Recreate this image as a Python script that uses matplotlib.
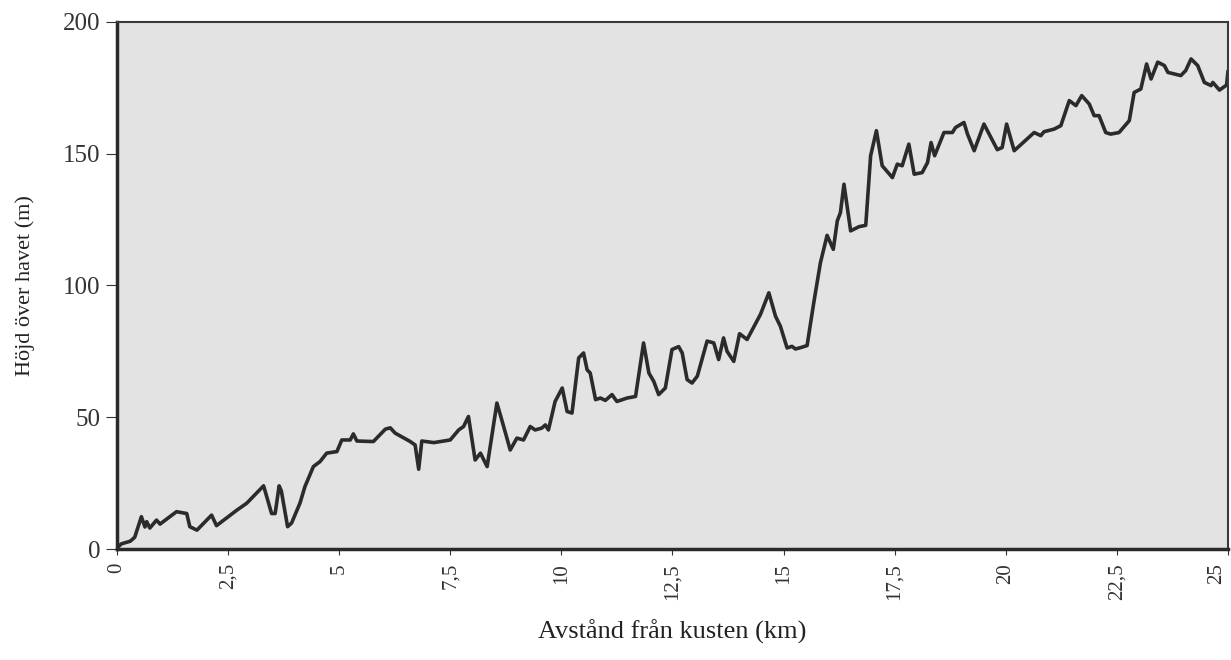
import matplotlib
matplotlib.use('Agg')
import matplotlib.pyplot as plt
from matplotlib.transforms import ScaledTranslation

# Höjdprofil, avläst från originalet (km, m)
dist_km = [0.0, 0.1, 0.3, 0.4, 0.55, 0.63, 0.67, 0.74, 0.89, 0.97, 1.34, 1.57, 1.64, 1.8,
           2.13, 2.24, 2.7, 2.92, 3.3, 3.48, 3.56, 3.65, 3.7, 3.84, 3.93, 4.12, 4.23, 4.42,
           4.57, 4.72, 4.95, 5.06, 5.25, 5.32, 5.4, 5.77, 6.04, 6.15, 6.26, 6.6, 6.71, 6.79,
           6.86, 7.13, 7.5, 7.69, 7.8, 7.91, 8.06, 8.18, 8.33, 8.55, 8.66, 8.85, 9.0, 9.15,
           9.3, 9.41, 9.56, 9.64, 9.71, 9.86, 10.02, 10.13, 10.24, 10.39, 10.5, 10.58, 10.65,
           10.77, 10.88, 10.99, 11.14, 11.25, 11.48, 11.67, 11.85, 11.97, 12.08, 12.19, 12.34,
           12.49, 12.64, 12.72, 12.83, 12.94, 13.06, 13.28, 13.43, 13.54, 13.65, 13.73, 13.88,
           14.01, 14.18, 14.48, 14.67, 14.82, 14.93, 15.08, 15.19, 15.27, 15.4, 15.53, 15.68,
           15.83, 15.98, 16.12, 16.21, 16.28, 16.36, 16.51, 16.7, 16.85, 16.96, 17.09, 17.22,
           17.45, 17.56, 17.67, 17.82, 17.94, 18.12, 18.24, 18.32, 18.4, 18.61, 18.8, 18.87,
           19.06, 19.14, 19.29, 19.51, 19.81, 19.92, 20.02, 20.19, 20.64, 20.79, 20.86, 21.09,
           21.24, 21.43, 21.58, 21.71, 21.88, 21.99, 22.1, 22.25, 22.36, 22.55, 22.78, 22.89,
           23.04, 23.17, 23.27, 23.42, 23.57, 23.65, 23.94, 24.05, 24.17, 24.32, 24.47, 24.62,
           24.66, 24.81, 24.97, 25.0]
height_m = [0.5, 2, 3, 4.5, 12.3, 8.4, 10.4, 8, 11, 9.5, 14.2, 13.5, 8.5, 7.2,
            12.9, 8.9, 14.8, 17.4, 24, 13.5, 13.5, 24, 22, 8.5, 9.9, 17.5, 23.7, 31.3,
            33.2, 36.4, 37, 41.4, 41.4, 43.7, 41, 40.8, 45.5, 46, 44, 40.8, 39.5, 30.3,
            41, 40.4, 41.4, 45.2, 46.5, 50.3, 33.8, 36.4, 31.3, 55.4, 49, 37.6, 42.1, 41.4,
            46.5, 45.2, 45.9, 47.1, 45.2, 56, 61.1, 52.2, 51.6, 72.5, 74.4, 68, 66.8,
            56.7, 57.3, 56.4, 58.6, 56, 57.3, 57.9, 78.2, 66.8, 63.6, 58.6, 61.1,
            75.7, 76.8, 74.4, 64.3, 63, 65.6, 78.9, 78.2, 71.9, 80.1, 75, 71.2,
            81.7, 79.5, 89, 97.2, 88.3, 84.5, 76.3, 76.9, 75.9, 76.5, 77.2, 93.4,
            108.6, 119, 113.7, 124.5, 127.6, 138.4, 120.7, 122.3, 122.8, 149.2, 158.7, 145.4,
            140.9, 146, 145.4, 153.6, 142.2, 142.8, 146.6, 154.2, 149.2, 158, 158, 159.9,
            161.8, 157.4, 151.1, 161.2, 151.5, 152.3, 161.2, 151.1, 158, 156.8, 158.3, 159.3,
            160.6, 170.1, 168.2, 172, 168.8, 164.4, 164.4, 158, 157.4, 158, 162.5, 173.2,
            174.5, 184, 178.3, 184.7, 183.4, 180.8, 179.6, 181.5, 185.9, 183.4, 177, 175.8,
            177, 174.1, 176, 181]

x_ticks = [0, 2.5, 5, 7.5, 10, 12.5, 15, 17.5, 20, 22.5, 25]
x_ticklabels = ['0', '2,5', '5', '7,5', '10', '12,5', '15', '17,5', '20', '22,5', '25']
y_ticks = [0, 50, 100, 150, 200]

plt.rcParams['font.family'] = ['Liberation Serif', 'DejaVu Serif']

fig = plt.figure(figsize=(12.31, 6.60), dpi=100)
ax = fig.add_axes([0.095, 0.168, 0.9025, 0.799])
ax.set_facecolor('#e3e3e3')

ax.plot(dist_km, height_m, color='#2b2b2b', linewidth=2.6, solid_joinstyle='round')

ax.set_xlim(0, 25)
ax.set_ylim(0, 200)
ax.set_xticks(x_ticks)
ax.set_xticklabels(x_ticklabels, rotation=90, fontsize=15)
ax.set_yticks(y_ticks)
ax.set_yticklabels([str(v) for v in y_ticks], fontsize=18)
ax.tick_params(axis='y', direction='out', length=8, width=0.8, pad=4, colors='#333333')
ax.tick_params(axis='x', direction='out', length=4, width=0.8, pad=6, colors='#333333')

# sista etiketten ligger lite innanför kanten, som i originalet
last = ax.get_xticklabels()[-1]
last.set_transform(last.get_transform() + ScaledTranslation(-8 / 72, 0, fig.dpi_scale_trans))

for side in ['left', 'bottom']:
    ax.spines[side].set_linewidth(2.5)
    ax.spines[side].set_color('#2a2a2a')
for side in ['top', 'right']:
    ax.spines[side].set_linewidth(1.5)
    ax.spines[side].set_color('#3a3a3a')

ax.set_xlabel('Avstånd från kusten (km)', fontsize=19, color='#222222', labelpad=14)
ax.set_ylabel('Höjd över havet (m)', fontsize=16, color='#222222', labelpad=20)

plt.savefig('out.png', dpi=100)
plt.close()
